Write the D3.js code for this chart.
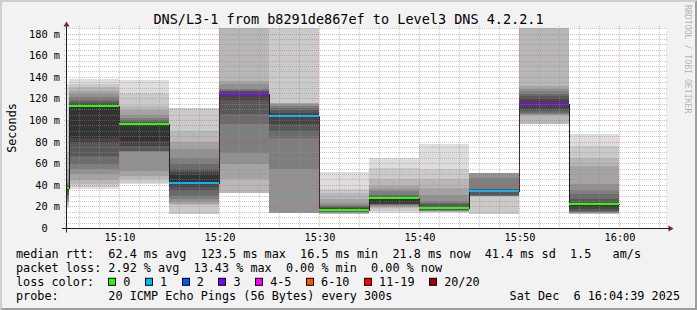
<!DOCTYPE html>
<html>
<head>
<meta charset="utf-8">
<script src="https://cdn.jsdelivr.net/npm/d3@7"></script>
<style>
  html, body { margin: 0; padding: 0; background: #f2f2f2; }
  svg { display: block; }
  text { font-family: 'DejaVu Sans Mono', monospace; fill: #000; white-space: pre; }
  .axis text { font-size: 10.3px; }
  .legend text { font-size: 11.8px; }
  .grid line { shape-rendering: crispEdges; stroke-dasharray: 1 1; }
  .grid.minor line { stroke: rgba(143, 143, 143, 0.5); }
  .grid.major line { stroke: rgba(222, 79, 79, 0.45); }
</style>
</head>
<body>
<svg id="chart" width="697" height="310"></svg>
<script>
const DAY = '2025-12-06';
const graphRange = ['15:04:40', '16:04:40'];

// one entry per 5 minute step (end time of the step)
const stepEnds = ['15:05:00', '15:10:00', '15:15:00', '15:20:00', '15:25:00', '15:30:00',
  '15:35:00', '15:40:00', '15:45:00', '15:50:00', '15:55:00', '16:00:00'];
const medians = [37.3, 113, 96, 42, 123.8, 104, 16.5, 27.4, 18.2, 34.3, 114.5, 21.8];
const lossCounts = [0, 0, 0, 1, 3, 1, 0, 0, 0, 1, 3, 0];

// 20 sorted ping times (ms) per step, null = lost ping
const pings = [
  [18.8, 20, 22, 24, 25, 27, 29, 31, 33, 35, 37.3, 38, 39, 40, 42, 45, 55, 70, 100, 133.6],
  [35.8, 38, 40.4, 44.1, 49.7, 54.3, 58.9, 66.7, 79, 83.6, 113, 115, 117, 119, 121.5, 123.8, 127, 130.6, 133, 137.7],
  [40.4, 42, 45, 48, 52.8, 70.8, 71, 71.3, 76, 80.5, 96, 97.5, 98.5, 100, 102, 105, 109, 113, 125.3, 136.7],
  [12, 12.6, 21, 21.9, 24, 26.5, 30, 34.3, 38, 42, 49.6, 52, 55, 58.9, 65, 72.8, 80, 89.8, 111.4, null],
  [null, 30, 32.7, 45, 58.9, 69.7, 96, 105.2, 119, 123.8, 125.3, 125.8, 126.5, 127.5, 129, 133, 136, 250, null, null],
  [13, 13.5, 13.8, 14, 14.2, 54.3, 83.6, 90, 96, 104, 104.7, 106.8, 109, 111.4, 113, 114.5, 115.5, 116, 250, null],
  [12.6, 13, 13.4, 13.8, 14.2, 14.5, 15, 15.5, 15.8, 16.2, 16.5, 18.2, 19, 20.4, 21.5, 23.4, 26.5, 32, 36, 52],
  [14.2, 16, 18.8, 19.5, 20.5, 21, 21.5, 21.9, 22.5, 23, 27.4, 28, 29.6, 31, 34.3, 36.5, 38.9, 45, 55.8, 65.1],
  [14, 14.5, 15, 15.3, 15.7, 16, 16.5, 17, 17.5, 18, 18.2, 19.5, 21.9, 23.5, 25, 31, 37.3, 45, 54.3, 77.5],
  [12, 12.6, 29.3, 29.4, 29.5, 29.6, 29.8, 31, 33, 34.3, 35, 35.5, 35.8, 36, 46.6, 51.2, 51.2, 51.2, 51.2, null],
  [null, 95, 96, 104.8, 105, 105.2, 106.5, 108, 109.9, 114.5, 116, 119.1, 122.3, 124.5, 126.8, 129, 131.5, 250, null, null],
  [12.6, 12.9, 13.2, 13.5, 14, 14.5, 15, 16, 17.2, 19, 21.8, 23.4, 27, 31.1, 35, 40.4, 57.4, 65.1, 75.9, 86.7]
];

const yTicks = [0, 20, 40, 60, 80, 100, 120, 140, 160, 180];
const yTickLabels = ['0  ', '20 m', '40 m', '60 m', '80 m', '100 m', '120 m', '140 m', '160 m', '180 m'];
const xTickLabels = ['15:10', '15:20', '15:30', '15:40', '15:50', '16:00'];

const lossLabels = ['0', '1', '2', '3', '4-5', '6-10', '11-19', '20/20'];
const lossLimits = [0, 1, 2, 3, 5, 10, 19, 20];
const lossColors = ['#26ff00', '#00b8ff', '#0059ff', '#7e00ff', '#ff00ff', '#ff5500', '#ff0000', '#a10000'];

const title = 'DNS/L3-1 from b8291de867ef to Level3 DNS 4.2.2.1';
const legendLines = [
  'median rtt:  62.4 ms avg  123.5 ms max  16.5 ms min  21.8 ms now  41.4 ms sd  1.5   am/s',
  'packet loss: 2.92 % avg  13.43 % max  0.00 % min  0.00 % now',
  'loss color:',
  'probe:       20 ICMP Echo Pings (56 Bytes) every 300s'
];
const stamp = 'Sat Dec  6 16:04:39 2025';

const WIDTH = 697, HEIGHT = 310;
const plot = { left: 66, top: 28, width: 600, height: 200 };
const Y_MAX = 185.25;
const STEP = 300;

const parseTime = d3.timeParse('%Y-%m-%d %H:%M:%S');
const toDate = t => parseTime(`${DAY} ${t}`);

let svg = d3.select('#chart');

let x = d3.scaleTime()
  .domain(graphRange.map(toDate))
  .rangeRound([plot.left, plot.left + plot.width]);
let y = d3.scaleLinear()
  .domain([0, Y_MAX])
  .rangeRound([plot.top + plot.height, plot.top]);

let steps = stepEnds.map((t, i) => {
  let end = toDate(t);
  return {
    start: d3.timeSecond.offset(end, -STEP),
    end,
    median: medians[i],
    loss: lossCounts[i],
    pings: pings[i]
  };
});

function lossColor(loss) {
  let i = lossLimits.findIndex(l => loss <= l);
  return lossColors[i];
}

// background + 3d border
svg.append('rect').attr('width', WIDTH).attr('height', HEIGHT).attr('fill', '#f2f2f2');
svg.append('polygon')
  .attr('points', `0,${HEIGHT} 2,${HEIGHT - 2} 2,2 ${WIDTH - 2},2 ${WIDTH},0 0,0`)
  .attr('fill', '#cfcfcf');
svg.append('polygon')
  .attr('points', `2,${HEIGHT - 2} ${WIDTH - 2},${HEIGHT - 2} ${WIDTH - 2},2 ${WIDTH},0 ${WIDTH},${HEIGHT} 0,${HEIGHT}`)
  .attr('fill', '#9e9e9e');

// canvas
svg.append('rect')
  .attr('x', plot.left).attr('y', plot.top)
  .attr('width', plot.width).attr('height', plot.height)
  .attr('fill', '#ffffff');

svg.append('clipPath').attr('id', 'plot-clip')
  .append('rect')
  .attr('x', plot.left).attr('y', plot.top)
  .attr('width', plot.width).attr('height', plot.height);

// smoke: band k spans ping k .. ping (21-k), inner bands darker
let half = 10;
let bands = [];
steps.forEach(s => {
  for (let k = 1; k <= half; k++) {
    let lo = s.pings[k - 1], hi = s.pings[20 - k];
    if (lo == null || hi == null) continue;
    let c = Math.floor(190 / half * (half - k)) + 50;
    bands.push({ start: s.start, end: s.end, lo, hi, color: `rgb(${c},${c},${c})` });
  }
});

let chart = svg.append('g').attr('clip-path', 'url(#plot-clip)');

chart.append('g').attr('class', 'smoke')
  .attr('shape-rendering', 'crispEdges')
  .selectAll('rect')
  .data(bands)
  .join('rect')
  .attr('x', d => x(d.start))
  .attr('width', d => x(d.end) - x(d.start))
  .attr('y', d => y(d.hi))
  .attr('height', d => y(d.lo) - y(d.hi))
  .attr('fill', d => d.color);

// median line
let lineData = [{ t: steps[0].start, v: steps[0].median }]
  .concat(steps.map(s => ({ t: s.end, v: s.median })));
let medianLine = d3.line()
  .x(d => x(d.t) + 0.5)
  .y(d => y(d.v) + 0.5)
  .curve(d3.curveStepBefore);

chart.append('path')
  .attr('d', medianLine(lineData))
  .attr('fill', 'none')
  .attr('stroke', '#202020')
  .attr('stroke-width', 1)
  .attr('shape-rendering', 'crispEdges');

// median coloured by loss
chart.append('g').attr('class', 'median')
  .attr('shape-rendering', 'crispEdges')
  .selectAll('rect')
  .data(steps)
  .join('rect')
  .attr('x', d => x(d.start))
  .attr('width', d => x(d.end) - x(d.start))
  .attr('y', d => y(d.median) - 1)
  .attr('height', 2)
  .attr('fill', d => lossColor(d.loss));

// grid
let t0 = x.domain()[0], t1 = x.domain()[1];
let majorTimes = xTickLabels.map(t => toDate(`${t}:00`));
let minorTimes = d3.timeMinute.every(2).range(t0, t1)
  .filter(t => t.getMinutes() % 10 !== 0);
let minorValues = d3.range(5, Y_MAX, 5).filter(v => v % 20 !== 0);

function gridY(values, cls) {
  svg.append('g')
    .attr('class', `grid ${cls}`)
    .attr('transform', `translate(${plot.left - 2}, 0)`)
    .call(d3.axisLeft(y).tickValues(values).tickSize(-(plot.width + 4)).tickFormat(''))
    .call(g => g.select('.domain').remove());
}

function gridX(values, cls) {
  svg.append('g')
    .attr('class', `grid ${cls}`)
    .attr('transform', `translate(0, ${plot.top - 2})`)
    .call(d3.axisTop(x).tickValues(values).tickSize(-(plot.height + 4)).tickFormat(''))
    .call(g => g.select('.domain').remove());
}

gridY(minorValues, 'minor');
gridX(minorTimes, 'minor');
gridY(yTicks.filter(v => v > 0), 'major');
gridX(majorTimes, 'major');

// axis lines + arrows
let x0 = plot.left + 0.5, yb = plot.top + plot.height + 0.5;
svg.append('line')
  .attr('x1', plot.left - 4).attr('x2', plot.left + plot.width + 4)
  .attr('y1', yb).attr('y2', yb)
  .attr('stroke', '#1f1f1f');
svg.append('line')
  .attr('x1', x0).attr('x2', x0)
  .attr('y1', yb + 4).attr('y2', plot.top - 4)
  .attr('stroke', '#1f1f1f');
svg.append('polygon')
  .attr('points', `${plot.left + plot.width + 2.5},${yb - 3} ${plot.left + plot.width + 2.5},${yb + 3} ${plot.left + plot.width + 7.5},${yb}`)
  .attr('fill', '#801f1f');
svg.append('polygon')
  .attr('points', `${x0 - 3},${plot.top - 1.5} ${x0 + 3},${plot.top - 1.5} ${x0},${plot.top - 6.5}`)
  .attr('fill', '#801f1f');

// tick labels
svg.append('g')
  .attr('class', 'axis y-axis')
  .attr('transform', `translate(${plot.left - 6}, 0.5)`)
  .call(d3.axisLeft(y).tickValues(yTicks).tickFormat((d, i) => yTickLabels[i]).tickSize(0).tickPadding(0))
  .call(g => g.select('.domain').remove())
  .selectAll('text')
  .attr('xml:space', 'preserve');

svg.append('g')
  .attr('class', 'axis x-axis')
  .attr('transform', `translate(0.5, ${plot.top + plot.height + 12.7})`)
  .call(d3.axisBottom(x).tickValues(majorTimes).tickFormat((d, i) => xTickLabels[i]).tickSize(0))
  .call(g => g.select('.domain').remove())
  .selectAll('text')
  .attr('y', 0)
  .attr('dy', 0);

// title, unit label, watermark
svg.append('text')
  .attr('x', WIDTH / 2).attr('y', 24)
  .attr('text-anchor', 'middle')
  .style('font-size', '13.5px')
  .text(title);

svg.append('text')
  .attr('transform', `translate(15.5, ${plot.top + plot.height / 2}) rotate(-90)`)
  .attr('text-anchor', 'middle')
  .style('font-size', '11.8px')
  .text('Seconds');

svg.append('text')
  .attr('transform', 'translate(684.5, 5) rotate(90)')
  .style('font-size', '8.2px')
  .style('fill', 'rgba(0,0,0,0.3)')
  .text('RRDTOOL / TOBI OETIKER');

// legend
let legend = svg.append('g').attr('class', 'legend');
let baselines = legendLines.map((d, i) => 258.3 + i * 13.9);

legend.selectAll('text.line')
  .data(legendLines)
  .join('text')
  .attr('class', 'line')
  .attr('xml:space', 'preserve')
  .attr('x', 16)
  .attr('y', (d, i) => baselines[i])
  .text(d => d);

let charW = legend.select('text.line').node().getComputedTextLength() / legendLines[0].length;

legend.append('text')
  .attr('x', 680).attr('y', baselines[3])
  .attr('text-anchor', 'end')
  .attr('xml:space', 'preserve')
  .text(stamp);

let bx = 16 + 13 * charW;
lossLabels.forEach((label, i) => {
  let rx = Math.round(bx) + 0.5;
  legend.append('rect')
    .attr('x', rx).attr('y', baselines[2] - 7.8)
    .attr('width', 7).attr('height', 7)
    .attr('fill', lossColors[i])
    .attr('stroke', '#000')
    .attr('stroke-width', 1);
  legend.append('text')
    .attr('x', bx + 15).attr('y', baselines[2])
    .text(label);
  bx += 15 + label.length * charW + 14.6;
});
</script>
</body>
</html>
